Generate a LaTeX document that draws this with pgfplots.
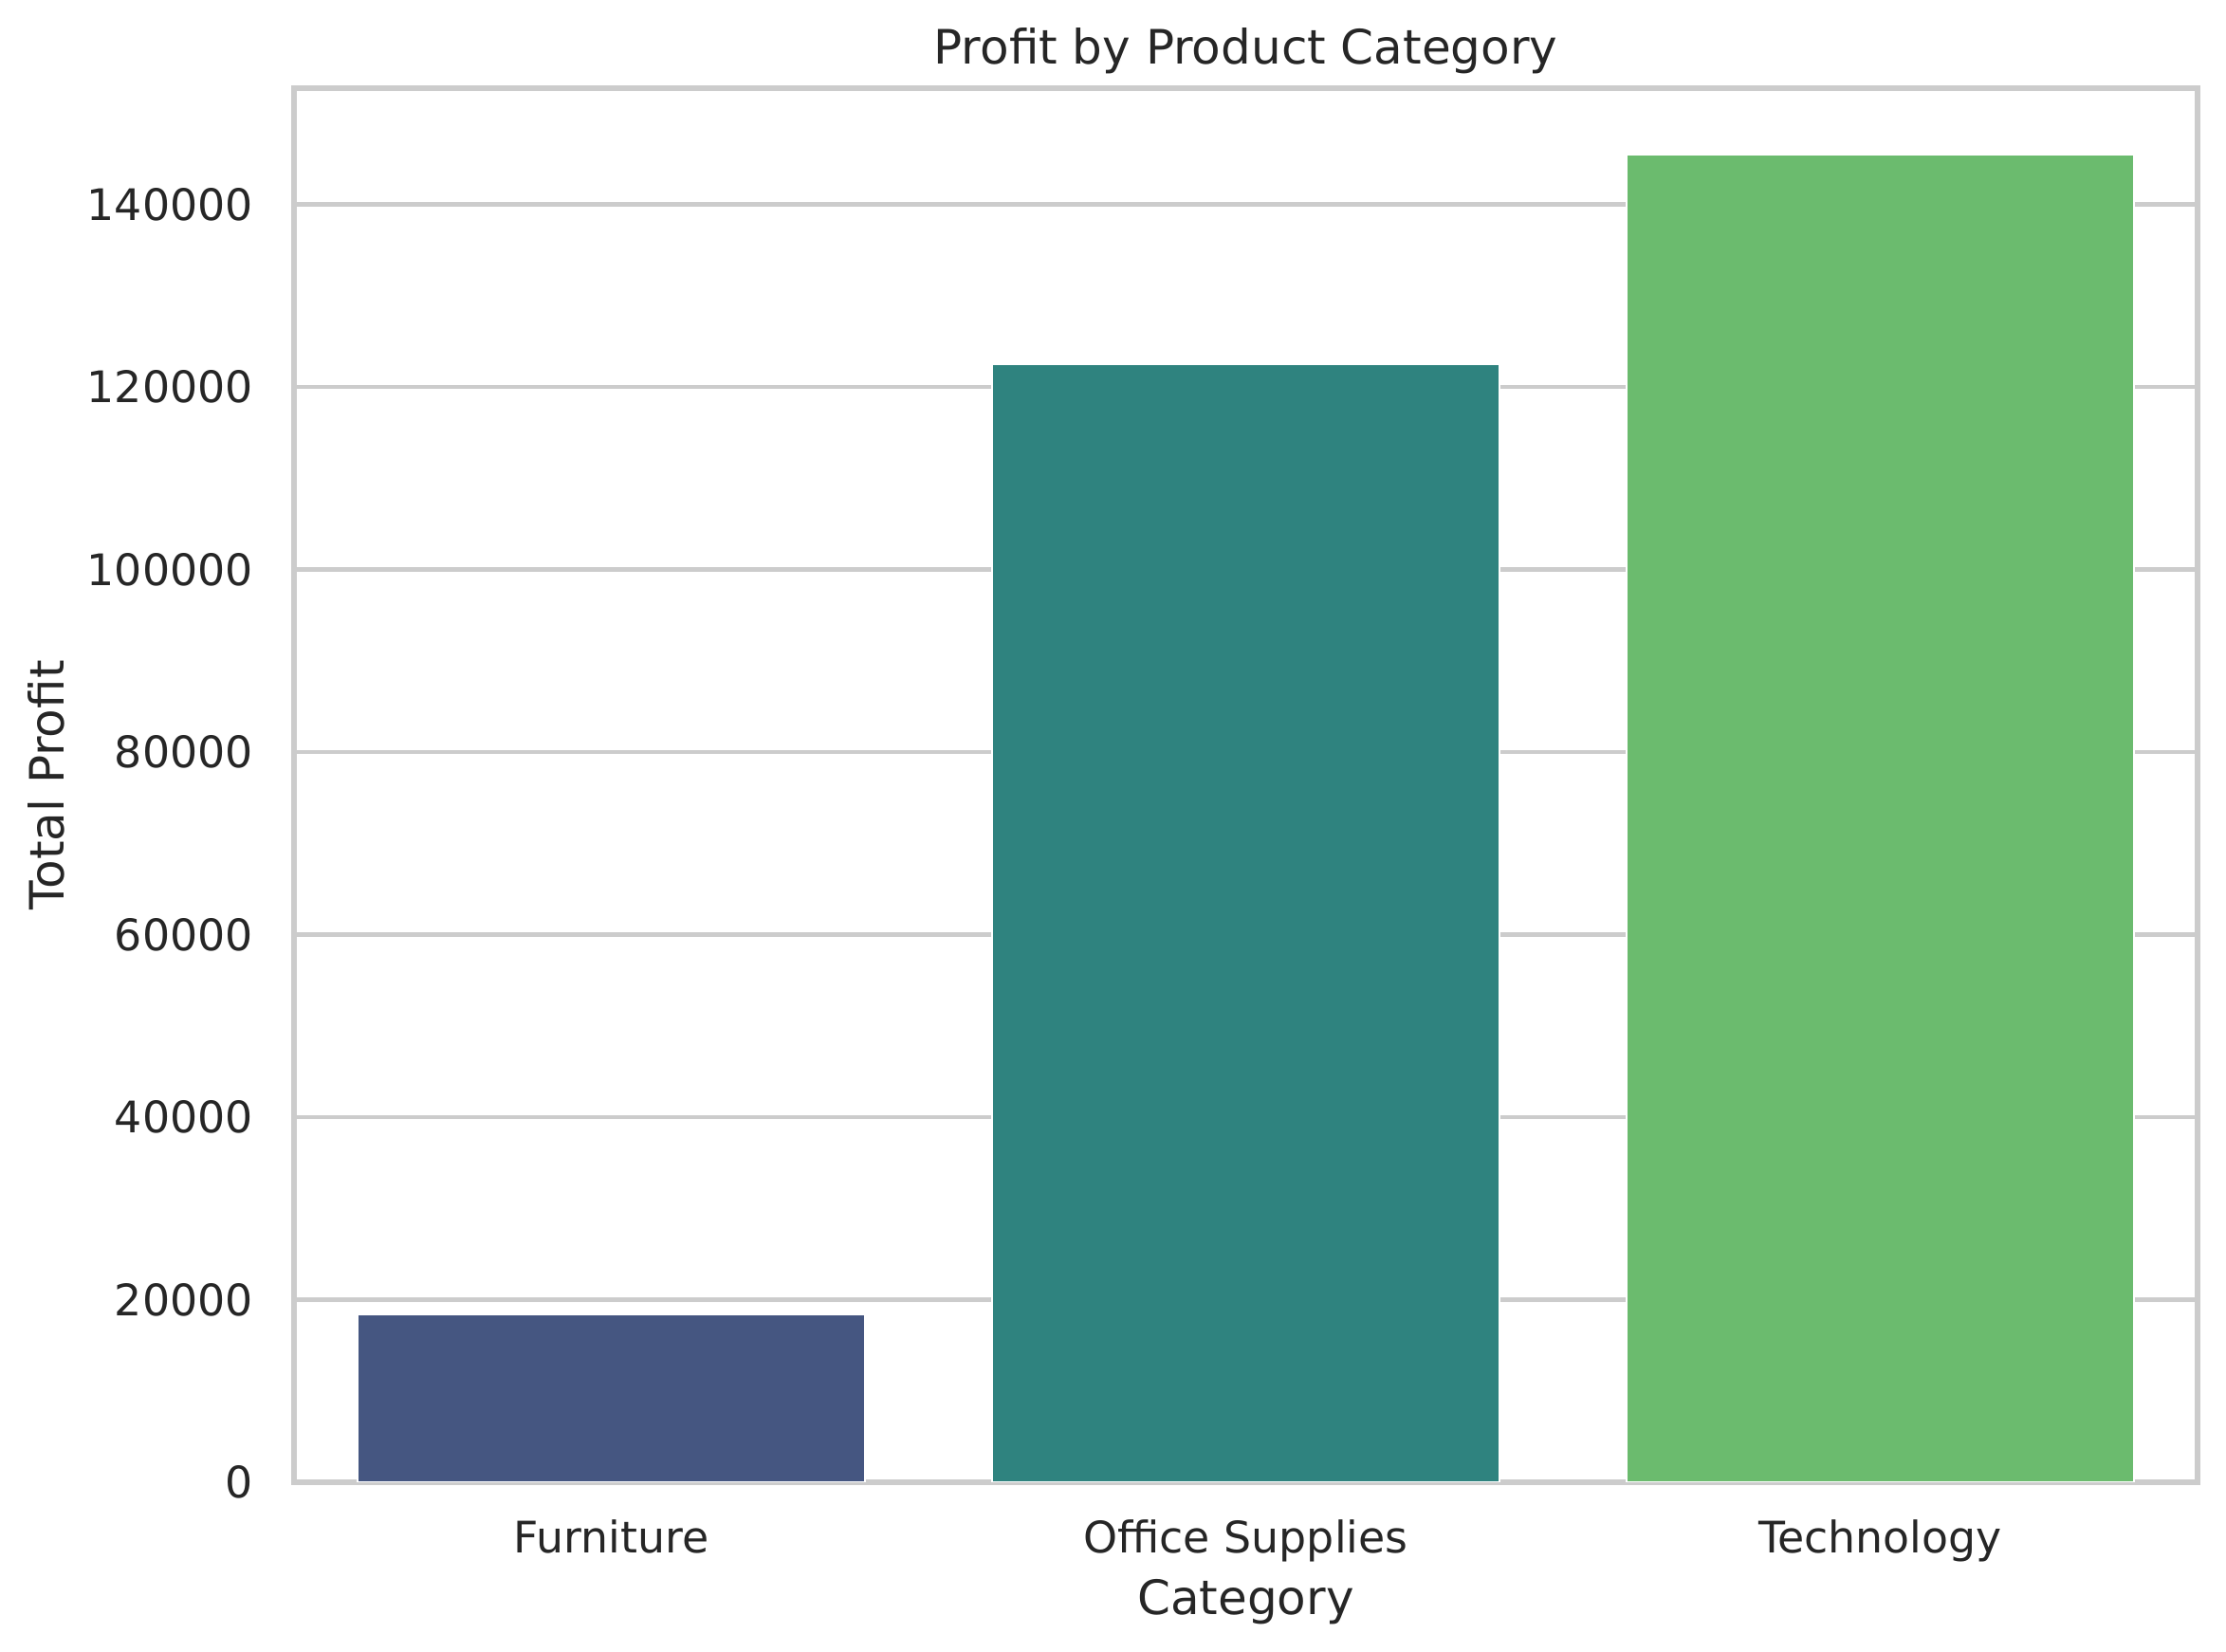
\documentclass[border=0pt]{standalone}
\usepackage{pgfplots}
\pgfplotsset{compat=1.18}
\usepackage{fontspec}
\setmainfont{DejaVu Sans}
\definecolor{txt}{HTML}{262626}
\definecolor{gridc}{HTML}{CCCCCC}
\definecolor{cFur}{HTML}{455681}
\definecolor{cOff}{HTML}{2F837F}
\definecolor{cTec}{HTML}{6BBB6E}
\begin{document}
\begin{tikzpicture}
\useasboundingbox (0,0) rectangle (563.28bp,418.08bp);
\begin{axis}[
  at={(74.4bp,42.96bp)}, anchor=south west,
  scale only axis,
  width=481.68bp, height=352.8bp,
  xmin=-0.5, xmax=2.5,
  ymin=0, ymax=152727.7,
  xtick={0,1,2},
  xticklabels={Furniture, Office Supplies, Technology},
  ytick={0,20000,40000,60000,80000,100000,120000,140000},
  scaled y ticks=false,
  /pgf/number format/.cd, fixed, 1000 sep={}, assume math mode=true,
  /pgfplots/.cd,
  ymajorgrids,
  major grid style={draw=gridc, line width=1bp},
  axis line style={draw=gridc, line width=1.25bp},
  major tick length=0pt,
  tick style={draw=none},
  ticklabel style={font=\fontsize{11bp}{13bp}\selectfont, text=txt},
  xticklabel style={anchor=base, inner sep=0pt, yshift=-17.8bp},
  yticklabel style={anchor=east, inner sep=0pt, xshift=-10.2bp},
  every axis title shift=0pt,
  title={Profit by Product Category},
  title style={font=\fontsize{12bp}{14bp}\selectfont, text=txt, at={(axis description cs:0.5,1.017)}, anchor=base, inner sep=0pt},
  xlabel={Category},
  xlabel style={font=\fontsize{12bp}{14bp}\selectfont, text=txt, at={(axis description cs:0.5,-0.0947)}, anchor=base, inner sep=0pt},
  ylabel={Total Profit},
  ylabel style={font=\fontsize{12bp}{14bp}\selectfont, text=txt, at={(axis description cs:-0.1206,0.5)}, anchor=base, rotate=0, inner sep=0pt},
]
\addplot[ybar, bar width=0.8, bar shift=0pt, fill=cFur, draw=white, line width=0.6bp] coordinates {(0,18451.27)};
\addplot[ybar, bar width=0.8, bar shift=0pt, fill=cOff, draw=white, line width=0.6bp] coordinates {(1,122490.80)};
\addplot[ybar, bar width=0.8, bar shift=0pt, fill=cTec, draw=white, line width=0.6bp] coordinates {(2,145454.95)};
\end{axis}
\end{tikzpicture}
\end{document}
